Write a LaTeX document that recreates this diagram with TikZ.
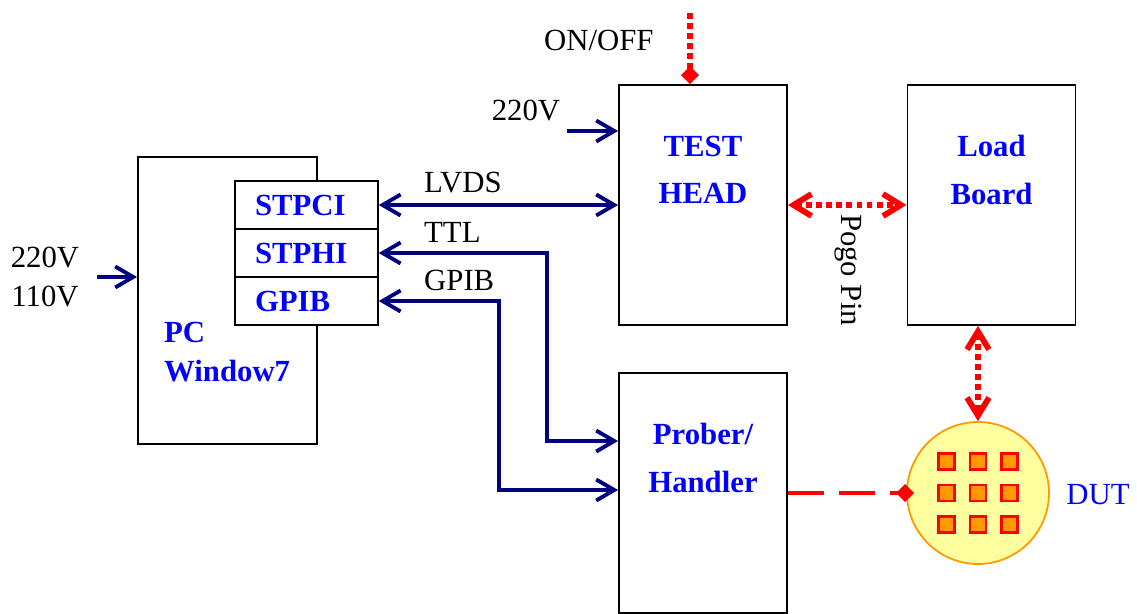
\documentclass[tikz,border=0pt]{standalone}
\usepackage{fontspec}
\setmainfont{Liberation Serif}
\usepackage{xcolor}
\usepackage{tikz}
\usetikzlibrary{positioning,arrows.meta,calc}
\definecolor{navy}{HTML}{000080}
\definecolor{pinred}{HTML}{FF0000}
\definecolor{wafer}{HTML}{FFFFA0}
\definecolor{amber}{HTML}{FF9900}

\begin{document}
\begin{tikzpicture}[x=0.02cm, y=-0.02cm,
  unit/.style={draw=black, line width=1.1pt, minimum width=3.36cm,
               minimum height=4.8cm, inner sep=0pt},
  port/.style={draw=black, fill=white, line width=0.9pt, text width=2.06cm,
               inner xsep=0.4cm, inner ysep=0pt, minimum height=0.96cm, align=left,
               font=\fontsize{17.5}{21}\selectfont\bfseries, text=blue},
  title/.style={font=\fontsize{17.5}{27}\selectfont\bfseries, text=blue, align=center},
  plain/.style={font=\fontsize{17.5}{22}\selectfont, text=black, align=center},
  bus/.style={{Straight Barb[length=3.6mm, width=4.2mm]}-{Straight Barb[length=3.6mm, width=4.2mm]},
              line width=2.2pt, color=navy},
  feed/.style={-{Straight Barb[length=3.6mm, width=4.2mm]}, line width=2.2pt, color=navy},
  dots/.style={line width=3.3pt, color=pinred, dash pattern=on 3.4pt off 2.3pt},
  pogo/.style={dots, {Straight Barb[length=3.6mm, width=4.4mm]}-{Straight Barb[length=3.6mm, width=4.4mm]}},
  probe/.style={-{Diamond[length=3.6mm, width=3.6mm]},
                line width=2.4pt, color=pinred, dash pattern=on 0.72cm off 0.3cm}
]
\useasboundingbox (0,0) rectangle (1137,613);

% main units
\node[unit, minimum width=3.58cm, minimum height=5.74cm] (pc) at (227.5,300.5) {};
\node[port] (stpci) at (306.5,205) {STPCI};
\node[port] (stphi) at (306.5,253) {STPHI};
\node[port] (gpib) at (306.5,301) {GPIB};
\node[title, anchor=west, align=left, font=\fontsize{17.5}{22}\selectfont\bfseries] (pctxt) at (158,352) {PC\\Window7};

\node[unit] (head) at (703,205) {};
\node[title] (headtxt) at (703,170) {TEST\\HEAD};
\node[unit] (load) at (991.5,205) {};
\node[title] (loadtxt) at (991.5,170) {Load\\Board};
\node[unit] (prober) at (703,493) {};
\node[title] (probertxt) at (703,458) {Prober/\\Handler};

% device under test
\node[circle, draw=amber, fill=wafer, line width=1pt, minimum size=2.84cm] (dut) at (978,493) {};
\foreach \i in {-1,0,1}
  \foreach \j in {-1,0,1}
    \node[draw=pinred, fill=amber, line width=1.2pt, minimum size=0.32cm, inner sep=0pt]
      (die\i\j) at ($(dut.center)+(31.5*\i,31.5*\j)$) {};
\node[plain, text=blue] (duttxt) at (1098,495) {DUT};

% power and switch
\node[plain] (acin) at (45,277) {220V\\110V};
\draw[feed] ([xshift=0.24cm]acin.east) -- (pc.west |- acin.east);
\node[plain] (hvtxt) at (526,111) {220V};
\coordinate (hvin) at (567,131);
\draw[feed] (hvin) -- (head.west |- hvin);
\node[plain, anchor=west] (swtxt) at (538,40) {ON/OFF};
\coordinate (sw) at (690,13);
\draw[dots, -{Diamond[length=3.6mm, width=3.6mm]}] (sw) -- (head.north -| sw);

% buses
\draw[bus] (stpci.east) -- (head.west |- stpci.east);
\node[plain, anchor=west] (lvds) at (418,183) {LVDS};
\draw[bus] (stphi.east) -- (547,253) |- ([yshift=1.04cm]prober.west);
\node[plain, anchor=west] (ttl) at (418,232) {TTL};
\draw[bus] (gpib.east) -- (499,301) |- ([yshift=0.06cm]prober.west);
\node[plain, anchor=west] (gpibtxt) at (418,280) {GPIB};

% pins
\draw[pogo] (head.east) -- (load.west);
\node[plain, rotate=-90] (pogotxt) at (848,270) {Pogo Pin};
\draw[pogo] (dut.north |- load.south) -- (dut.north);
\draw[probe] (prober.east) -- ([xshift=1.6mm]dut.west);

\end{tikzpicture}
\end{document}
